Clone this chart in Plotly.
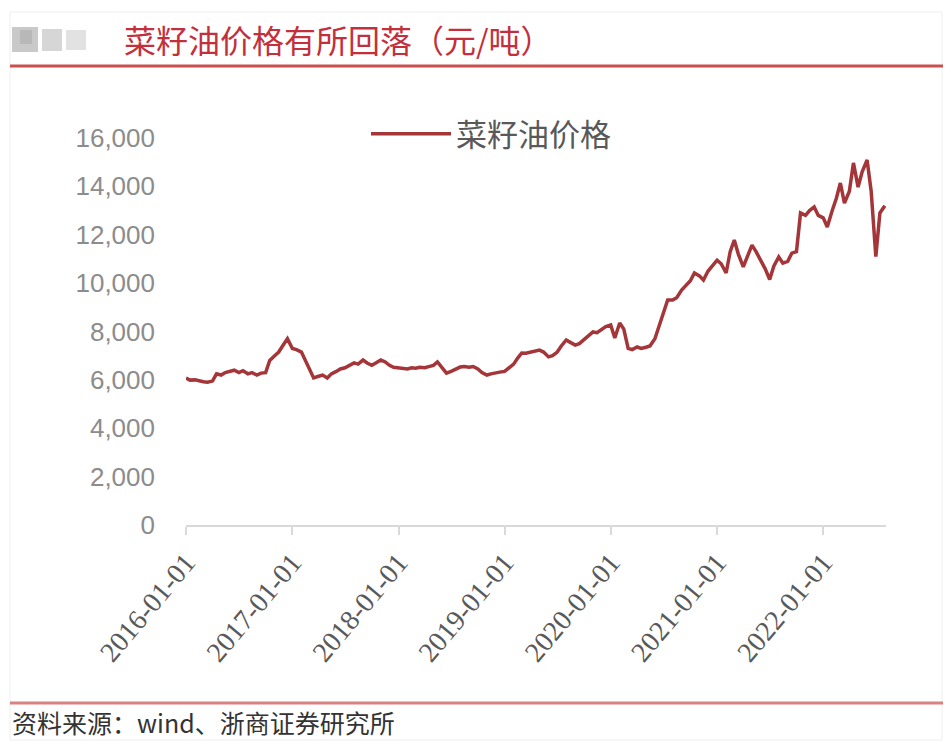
import pandas as pd
import plotly.graph_objects as go

# ---- data (semi-monthly readings, yuan/ton) ----
price_2016 = [6080, 5990, 6000, 5950, 5920, 5900, 5950, 6250, 6200, 6300, 6350, 6400,
              6300, 6380, 6250, 6300, 6200, 6280, 6300, 6800, 7000, 7150, 7450, 7700]
price_2017 = [7300, 7250, 7150, 6800, 6400, 6080, 6150, 6200, 6080, 6250, 6350, 6450,
              6500, 6600, 6700, 6650, 6820, 6700, 6600, 6700, 6820, 6750, 6600, 6520]
price_2018 = [6490, 6480, 6450, 6500, 6480, 6520, 6500, 6550, 6600, 6740, 6500, 6280,
              6350, 6450, 6530, 6550, 6520, 6550, 6450, 6300, 6200, 6250, 6300, 6320]
price_2019 = [6350, 6500, 6650, 6900, 7110, 7100, 7150, 7200, 7230, 7150, 6950, 7000,
              7150, 7400, 7650, 7550, 7440, 7500, 7650, 7800, 7980, 7950, 8100, 8200]
price_2020 = [8270, 7730, 8350, 8100, 7300, 7250, 7360, 7300, 7350, 7400, 7700, 8190,
              8700, 9300, 9300, 9400, 9710, 9900, 10100, 10420, 10300, 10130, 10500, 10700]
price_2021 = [10950, 10800, 10420, 11300, 11780, 11200, 10670, 11100, 11570, 11300, 10950, 10600,
              10150, 10700, 11080, 10830, 10900, 11240, 11300, 12900, 12800, 13000, 13150, 12800]
price_2022 = [12700, 12320, 13000, 13500, 14140, 13310, 13800, 14970, 13970, 14600, 15090, 13800,
              11100, 12900, 13200]

prices = price_2016 + price_2017 + price_2018 + price_2019 + price_2020 + price_2021 + price_2022
dates = pd.date_range("2016-01-01", "2022-08-01", freq="SMS")

x_tick_vals = ["2016-01-01", "2017-01-01", "2018-01-01", "2019-01-01",
               "2020-01-01", "2021-01-01", "2022-01-01"]
x_tick_text = ["2016-01-01", "2017-01-01", "2018-01-01", "2019-01-01",
               "2020-01-01", "2021-01-01", "2022-01-01"]
y_tick_vals = [0, 2000, 4000, 6000, 8000, 10000, 12000, 14000, 16000]

series_name = "菜籽油价格"
title_text = "菜籽油价格有所回落（元/吨）"
source_text = "资料来源：wind、浙商证券研究所"

# ---- layout geometry (page pixels; page body has an 8px margin) ----
OFF = 8
PAGE_W, PAGE_H = 951, 749
W, H = PAGE_W - 2 * OFF, PAGE_H - 2 * OFF
L, R, T, B = 186, 886, 138, 525


def px(x):
    return (x - L) / (R - L)


def py(y):
    return (B - y) / (B - T)


fig = go.Figure()
fig.add_trace(go.Scatter(
    x=dates, y=prices, mode="lines", name=series_name,
    line=dict(color="#A4363A", width=3.5),
))

shapes = [
    dict(type="rect", xref="paper", yref="paper", x0=px(10), x1=px(942), y0=py(740), y1=py(12),
         line=dict(color="#EFEFEF", width=1), layer="below"),
    dict(type="line", xref="paper", yref="paper", x0=px(10), x1=px(943), y0=py(66), y1=py(66),
         line=dict(color="#C9504F", width=3)),
    dict(type="line", xref="paper", yref="paper", x0=px(10), x1=px(943), y0=py(703), y1=py(703),
         line=dict(color="#D98283", width=3)),
]
for (x0, x1, y0, y1, c) in [(12, 38, 27, 52, "#C9C9C9"), (42, 62, 29, 51, "#D6D6D6"),
                            (66, 86, 30, 50, "#E2E2E2"), (20, 32, 30, 44, "#B8B8B8")]:
    shapes.append(dict(type="rect", xref="paper", yref="paper", x0=px(x0), x1=px(x1),
                       y0=py(y1), y1=py(y0), line=dict(width=0), fillcolor=c))

annotations = [
    dict(text=title_text, xref="paper", yref="paper", x=px(122), y=py(39),
         xanchor="left", yanchor="middle", showarrow=False,
         font=dict(family="Noto Sans CJK SC", size=32, color="#C3303B")),
    dict(text=source_text, xref="paper", yref="paper", x=px(10), y=py(722),
         xanchor="left", yanchor="middle", showarrow=False,
         font=dict(family="Noto Sans CJK SC", size=25, color="#333333")),
]

fig.update_layout(
    width=W, height=H,
    margin=dict(l=L - OFF, r=W - (R - OFF), t=T - OFF, b=H - (B - OFF), pad=0),
    paper_bgcolor="white", plot_bgcolor="white",
    shapes=shapes, annotations=annotations,
    showlegend=True,
    legend=dict(x=px(366), y=py(134), xanchor="left", yanchor="middle",
                bgcolor="rgba(0,0,0,0)", itemwidth=80,
                font=dict(family="Noto Sans CJK SC", size=31, color="#595959")),
    xaxis=dict(
        type="date", range=["2016-01-01", "2022-08-05"],
        tickvals=x_tick_vals, ticktext=x_tick_text, tickangle=-50,
        tickfont=dict(family="serif", size=28, color="#595959"),
        showline=True, linecolor="#D9D9D9", linewidth=2,
        ticks="outside", ticklen=8, tickcolor="#D9D9D9", tickwidth=1.5,
        showgrid=False, zeroline=False,
    ),
    yaxis=dict(
        range=[0, 16000], tickvals=y_tick_vals, tickformat=",",
        tickfont=dict(family="Liberation Sans", size=26, color="#8C8C8C"),
        showline=False, showgrid=False, zeroline=False,
        ticks="", ticklabelstandoff=30,
    ),
)

fig.write_html("out.html")
